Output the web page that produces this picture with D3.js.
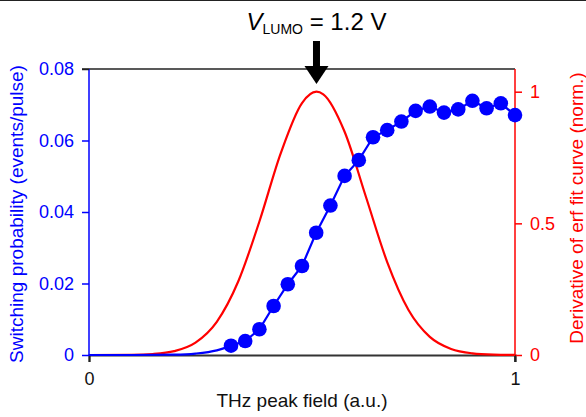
<!DOCTYPE html>
<html>
<head>
<meta charset="utf-8">
<script src="https://cdn.jsdelivr.net/npm/d3@7"></script>
<style>
  html, body { margin: 0; padding: 0; background: #fff; }
  svg { display: block; font-family: "Liberation Sans", Arial, sans-serif; }
</style>
</head>
<body>
<svg id="chart" width="586" height="417"></svg>
<script>
// Measured switching probability vs. THz peak field
const fieldValues = [0.3333, 0.3667, 0.4, 0.4333, 0.4667, 0.5, 0.5333, 0.5667, 0.6, 0.6333,
                     0.6667, 0.7, 0.7333, 0.7667, 0.8, 0.8333, 0.8667, 0.9, 0.9333, 0.9667, 1.0];
const probValues  = [0.0026, 0.0039, 0.0072, 0.0137, 0.0198, 0.0249, 0.0342, 0.0418, 0.0501, 0.0545,
                     0.0609, 0.0629, 0.0653, 0.0683, 0.0695, 0.0678, 0.0687, 0.0711, 0.0690, 0.0704, 0.0671];

// Low-field tail of the erf fit leading into the first measured point
const fitTailField = [0, 0.1, 0.2, 0.25, 0.3, 0.3333];
const fitTailProb  = [0, 0, 0.0001, 0.0004, 0.0013, 0.0026];

// Normalised derivative of the erf fit curve
const derivField = [0, 0.1, 0.15, 0.2, 0.25, 0.3, 0.35, 0.4, 0.45, 0.5, 0.534, 0.55,
                    0.6, 0.65, 0.7, 0.75, 0.8, 0.85, 0.9, 0.95, 1.0];
const derivValues = [0, 0.0008, 0.0038, 0.0147, 0.047, 0.126, 0.278, 0.507, 0.766, 0.957, 1.0, 0.990,
                     0.848, 0.601, 0.353, 0.171, 0.069, 0.023, 0.0063, 0.0014, 0.0002];

const leftTicks = [0, 0.02, 0.04, 0.06, 0.08];
const rightTicks = [0, 0.5, 1];
const bottomTicks = [0, 1];
const titleMain = "V";
const titleSub = "LUMO";
const titleRest = " = 1.2 V";

const BLUE = "#0000ff", RED = "#ff0000", DARK = "#222";
const FONT = "Liberation Sans, Arial, sans-serif";
const svg = d3.select("#chart");
const m = { left: 89, right: 515, top: 69, bottom: 355 };

const x = d3.scaleLinear().domain([0, 1]).range([m.left, m.right]);
const yL = d3.scaleLinear().domain([0, 0.08]).range([m.bottom, m.top]);
const yR = d3.scaleLinear().domain([0, 1]).range([m.bottom, 91.7]);

// thin rule along the top of the page
svg.append("line").attr("x1", 0).attr("x2", 586).attr("y1", 0.5).attr("y2", 0.5)
  .attr("stroke", DARK).attr("stroke-width", 1.2);

// frame: top edge
svg.append("line").attr("x1", m.left - 7).attr("x2", m.right).attr("y1", m.top).attr("y2", m.top)
  .attr("stroke", DARK).attr("stroke-width", 1.5);

// bottom axis
const xAxis = svg.append("g").attr("transform", `translate(0,${m.bottom})`)
  .call(d3.axisBottom(x).tickValues(bottomTicks).tickFormat(d3.format("d")).tickSize(7).tickPadding(10));
xAxis.select(".domain").attr("stroke", "#333").attr("stroke-width", 2.2);
xAxis.selectAll(".tick line").attr("stroke", DARK).attr("stroke-width", 1.5);
xAxis.selectAll(".tick text").attr("fill", "#111").attr("font-size", 18).attr("font-family", FONT);

// left axis
const lAxis = svg.append("g").attr("transform", `translate(${m.left},0)`)
  .call(d3.axisLeft(yL).tickValues(leftTicks).tickFormat(d => d === 0 ? "0" : d3.format(".2f")(d)).tickSize(7).tickPadding(8));
lAxis.select(".domain").attr("stroke", BLUE).attr("stroke-width", 1.5).attr("d", `M0,${m.top}V${m.bottom}`);
lAxis.selectAll(".tick line").attr("stroke", (d) => d === 0.08 ? DARK : BLUE).attr("stroke-width", 1.5);
lAxis.selectAll(".tick text").attr("fill", BLUE).attr("font-size", 18).attr("font-family", FONT);

// right axis
const rAxis = svg.append("g").attr("transform", `translate(${m.right},0)`)
  .call(d3.axisRight(yR).tickValues(rightTicks).tickFormat(d => String(d)).tickSize(7).tickPadding(8));
rAxis.select(".domain").attr("stroke", RED).attr("stroke-width", 1.5).attr("d", `M0,${m.top}V${m.bottom}`);
rAxis.selectAll(".tick line").attr("stroke", RED).attr("stroke-width", 1.5);
rAxis.selectAll(".tick text").attr("fill", RED).attr("font-size", 18).attr("font-family", FONT);
// bottom-right corner tick continues downward in black
svg.append("line").attr("x1", m.right).attr("x2", m.right).attr("y1", m.bottom).attr("y2", m.bottom + 7)
  .attr("stroke", DARK).attr("stroke-width", 1.5);

// axis titles
svg.append("text").attr("transform", `translate(23,214) rotate(-90)`)
  .attr("text-anchor", "middle").attr("fill", BLUE).attr("font-size", 19)
  .text("Switching probability (events/pulse)");
svg.append("text").attr("transform", `translate(583,208) rotate(-90)`)
  .attr("text-anchor", "middle").attr("fill", RED).attr("font-size", 19)
  .text("Derivative of erf fit curve (norm.)");
svg.append("text").attr("x", (m.left + m.right) / 2).attr("y", 407)
  .attr("text-anchor", "middle").attr("fill", "#111").attr("font-size", 19)
  .text("THz peak field (a.u.)");

// derivative curve (red)
const derivPts = derivField.map((f, i) => [f, derivValues[i]]);
svg.append("path").datum(derivPts)
  .attr("fill", "none").attr("stroke", RED).attr("stroke-width", 2.2)
  .attr("d", d3.line().x(d => x(d[0])).y(d => yR(d[1])).curve(d3.curveMonotoneX));

// fit tail (blue) into the data
const tailPts = fitTailField.map((f, i) => [f, fitTailProb[i]]);
svg.append("path").datum(tailPts)
  .attr("fill", "none").attr("stroke", BLUE).attr("stroke-width", 2.2)
  .attr("d", d3.line().x(d => x(d[0])).y(d => yL(d[1])).curve(d3.curveMonotoneX));

// measured points joined by line
const dataPts = fieldValues.map((f, i) => [f, probValues[i]]);
svg.append("path").datum(dataPts)
  .attr("fill", "none").attr("stroke", BLUE).attr("stroke-width", 2.2)
  .attr("d", d3.line().x(d => x(d[0])).y(d => yL(d[1])));
svg.append("g").selectAll("circle").data(dataPts).join("circle")
  .attr("cx", d => x(d[0])).attr("cy", d => yL(d[1])).attr("r", 7.3)
  .attr("fill", BLUE);

// peak marker arrow and label
const peakIdx = d3.maxIndex(derivValues);
const px = x(derivField[peakIdx]);
svg.append("rect").attr("x", px - 3.5).attr("y", 41).attr("width", 7).attr("height", 27).attr("fill", "#000");
svg.append("path").attr("d", `M${px - 12},66 L${px + 12},66 L${px},84 Z`).attr("fill", "#000");

const title = svg.append("text").attr("x", px).attr("y", 30).attr("text-anchor", "middle")
  .attr("font-size", 24).attr("fill", "#000");
title.append("tspan").attr("font-style", "italic").text(titleMain);
title.append("tspan").attr("font-size", 14).attr("dy", 4).text(titleSub);
title.append("tspan").attr("dy", -4).text(titleRest);
</script>
</body>
</html>
